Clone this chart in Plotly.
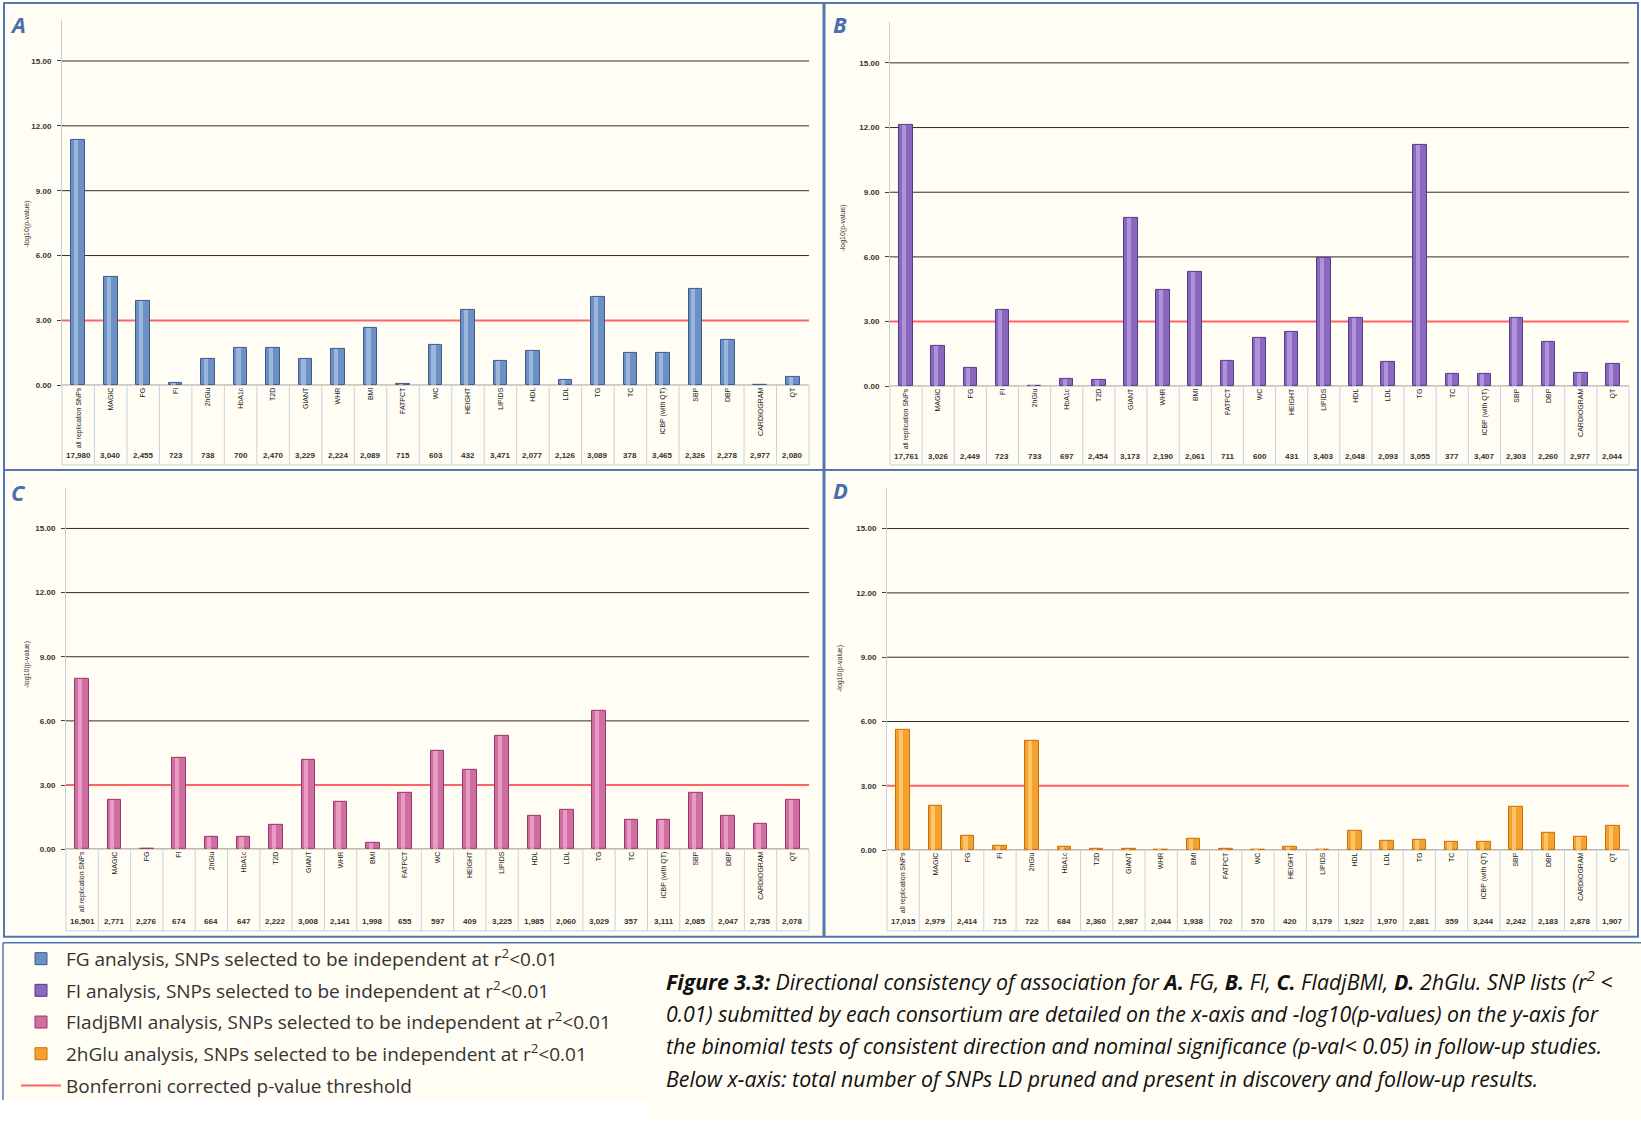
import plotly.graph_objects as go

W, H = 1641, 1122

CATEGORIES = ["all replication SNPs", "MAGIC", "FG", "FI", "2hGlu", "HbA1c", "T2D", "GIANT",
              "WHR", "BMI", "FATPCT", "WC", "HEIGHT", "LIPIDS", "HDL", "LDL", "TG", "TC",
              "ICBP (with QT)", "SBP", "DBP", "CARDIOGRAM", "QT"]

FG_VALUES = [11.35, 5.01, 3.91, 0.12, 1.22, 1.71, 1.75, 1.24, 1.69, 2.67, 0.05, 1.86,
             3.49, 1.12, 1.61, 0.23, 4.09, 1.52, 1.52, 4.48, 2.08, 0.01, 0.40]
FI_VALUES = [12.14, 1.89, 0.87, 3.55, 0.03, 0.36, 0.31, 7.83, 4.45, 5.32, 1.18, 2.25,
             2.50, 5.94, 3.18, 1.13, 11.21, 0.56, 0.56, 3.19, 2.05, 0.62, 1.05]
FIADJBMI_VALUES = [7.99, 2.32, 0.0, 4.29, 0.56, 0.58, 1.13, 4.17, 2.23, 0.31, 2.66, 4.62,
                   3.70, 5.31, 1.57, 1.85, 6.49, 1.39, 1.39, 2.66, 1.54, 1.18, 2.29]
HGLU_VALUES = [5.61, 2.05, 0.69, 0.20, 5.09, 0.14, 0.06, 0.06, 0.02, 0.55, 0.08, 0.03,
               0.14, 0.02, 0.92, 0.45, 0.50, 0.38, 0.38, 2.00, 0.83, 0.62, 1.16]

FG_COUNTS = [17980, 3040, 2455, 723, 738, 700, 2470, 3229, 2224, 2089, 715, 603, 432,
             3471, 2077, 2126, 3089, 378, 3465, 2326, 2278, 2977, 2080]
FI_COUNTS = [17761, 3026, 2449, 723, 733, 697, 2454, 3173, 2190, 2061, 711, 600, 431,
             3403, 2048, 2093, 3055, 377, 3407, 2303, 2260, 2977, 2044]
FIADJBMI_COUNTS = [16501, 2771, 2276, 674, 664, 647, 2222, 3008, 2141, 1998, 655, 597, 409,
                   3225, 1985, 2060, 3029, 357, 3111, 2085, 2047, 2735, 2078]
HGLU_COUNTS = [17015, 2979, 2414, 715, 722, 684, 2360, 2987, 2044, 1938, 702, 570, 420,
               3179, 1922, 1970, 2881, 359, 3244, 2242, 2183, 2878, 1907]

Y_TICKS = [0, 3, 6, 9, 12, 15]
BONFERRONI = 3.0

LEGEND_NAMES = [
    "FG analysis, SNPs selected to be independent at r<sup>2</sup><0.01",
    "FI analysis, SNPs selected to be independent at r<sup>2</sup><0.01",
    "FIadjBMI analysis, SNPs selected to be independent at r<sup>2</sup><0.01",
    "2hGlu analysis, SNPs selected to be independent at r<sup>2</sup><0.01",
]
PANEL_LETTERS = ["A", "B", "C", "D"]

CREAM = "#fffdf4"
BORDER = "#5577b0"
GRID = "#2a2a2a"
RED = "#ff6464"
N = len(CATEGORIES)


def px(x):
    return x / W


def py(y):
    return 1 - y / H


panels = [
    dict(values=FG_VALUES, counts=FG_COUNTS, fill="#6d90c4", edge="#3d5c8c", hi="#a9c3e6",
         xpx=(62, 809), ypx=(387, 20), count_y=458, cell_bottom=467,
         letter=(18, 24), ytitle=(21, 200)),
    dict(values=FI_VALUES, counts=FI_COUNTS, fill="#8a68be", edge="#58388c", hi="#bba2e2",
         xpx=(890, 1629), ypx=(388, 22), count_y=459, cell_bottom=467,
         letter=(840, 24), ytitle=(843, 204)),
    dict(values=FIADJBMI_VALUES, counts=FIADJBMI_COUNTS, fill="#cf6fa1", edge="#98386a", hi="#f2a9cd",
         xpx=(66, 809), ypx=(853, 490), count_y=926, cell_bottom=935,
         letter=(18, 494), ytitle=(21, 668)),
    dict(values=HGLU_VALUES, counts=HGLU_COUNTS, fill="#f3a231", edge="#c86f05", hi="#ffd27a",
         xpx=(887, 1629), ypx=(854, 490), count_y=926, cell_bottom=935,
         letter=(840, 492), ytitle=(840, 672)),
]

fig = go.Figure()
shapes = [
    dict(type="rect", xref="paper", yref="paper", x0=px(4), x1=px(1638), y0=py(941), y1=py(3),
         fillcolor=CREAM, line=dict(width=0), layer="below"),
    dict(type="rect", xref="paper", yref="paper", x0=px(3), x1=px(650), y0=py(1105), y1=py(947),
         fillcolor=CREAM, line=dict(width=0), layer="below"),
    dict(type="rect", xref="paper", yref="paper", x0=px(650), x1=1, y0=0, y1=py(947),
         fillcolor=CREAM, line=dict(width=0), layer="below"),
]
annotations = []

for i, p in enumerate(panels, start=1):
    xa = "x" if i == 1 else f"x{i}"
    ya = "y" if i == 1 else f"y{i}"
    x0p, x1p = p["xpx"]
    ybot, ytop = p["ypx"]
    fig.add_trace(go.Bar(
        x=CATEGORIES, y=p["values"], xaxis=xa, yaxis=ya, width=0.42,
        name=LEGEND_NAMES[i - 1], legendgroup=f"g{i}",
        marker=dict(color=p["fill"], line=dict(color=p["edge"], width=1)),
    ))
    fig.add_trace(go.Bar(
        x=CATEGORIES, y=p["values"], xaxis=xa, yaxis=ya, width=0.13, offset=-0.13,
        showlegend=False, hoverinfo="skip",
        marker=dict(color=p["hi"], opacity=0.75, line=dict(width=0)),
    ))
    fig.layout[f"xaxis{i}"] = dict(
        domain=[px(x0p), px(x1p)], anchor=ya, type="category", categoryorder="array",
        categoryarray=CATEGORIES, range=[-0.5, N - 0.5],
        tickangle=-90, showgrid=False, ticks="", showline=False,
        tickfont=dict(family="Liberation Sans", size=7, color="#222"),
    )
    fig.layout[f"yaxis{i}"] = dict(
        domain=[py(ybot), py(ytop)], anchor=xa, range=[0, 16.9], tickvals=Y_TICKS,
        tickformat=".2f", showgrid=False, zeroline=False,
        showline=True, linecolor="#c6cedb",
        ticks="outside", ticklen=4, tickcolor="#444", ticklabelstandoff=4,
        tickfont=dict(family="Liberation Sans", size=8, color="#333", weight="bold"),
    )
    # horizontal gridlines (the one at the threshold is drawn red)
    for t in Y_TICKS:
        if t == BONFERRONI:
            continue
        shapes.append(dict(type="line", xref=xa, yref=ya, x0=-0.5, x1=N - 0.5, y0=t, y1=t,
                           layer="below", line=dict(color=GRID, width=1)))
    shapes.append(dict(type="line", xref=xa, yref=ya, x0=-0.5, x1=N - 0.5,
                       y0=BONFERRONI, y1=BONFERRONI, layer="below",
                       line=dict(color=RED, width=2)))
    # table cells under the x axis
    cb = p["cell_bottom"]
    for k in range(N + 1):
        xk = x0p + k * (x1p - x0p) / N
        shapes.append(dict(type="line", xref="paper", yref="paper", x0=px(xk), x1=px(xk),
                           y0=py(cb), y1=py(ybot), line=dict(color="#c9d2df", width=1)))
    shapes.append(dict(type="line", xref="paper", yref="paper", x0=px(x0p), x1=px(x1p),
                       y0=py(cb), y1=py(cb), line=dict(color="#c9d2df", width=1)))
    cy = -(p["count_y"] - ybot) / (ybot - ytop)
    for cat, n in zip(CATEGORIES, p["counts"]):
        annotations.append(dict(x=cat, y=cy, xref=xa, yref=f"{ya} domain", yanchor="middle",
                                text=f"<b>{n:,}</b>", showarrow=False,
                                font=dict(family="Liberation Sans", size=8, color="#333")))
    lx, ly = p["letter"]
    annotations.append(dict(x=px(lx), y=py(ly), xref="paper", yref="paper",
                            text=f"<b><i>{PANEL_LETTERS[i - 1]}</i></b>", showarrow=False,
                            xanchor="center", yanchor="middle",
                            font=dict(family="Open Sans", size=22, color="#4a6db0")))
    tx, ty = p["ytitle"]
    annotations.append(dict(x=px(tx), y=py(ty), xref="paper", yref="paper",
                            text="-log10(p-value)", textangle=-90, showarrow=False,
                            font=dict(family="Liberation Sans", size=7, color="#333")))

# legend entry for the threshold line
fig.add_trace(go.Scatter(x=[None], y=[None], mode="lines", xaxis="x", yaxis="y",
                         name="Bonferroni corrected p-value threshold", legendgroup="bonf",
                         line=dict(color=RED, width=2)))

frame = dict(color=BORDER, width=2)
shapes += [
    dict(type="rect", xref="paper", yref="paper", x0=px(4), x1=px(1638), y0=py(941), y1=py(3),
         line=frame),
    dict(type="line", xref="paper", yref="paper", x0=px(824), x1=px(824), y0=py(941), y1=py(3),
         line=dict(color=BORDER, width=3)),
    dict(type="line", xref="paper", yref="paper", x0=px(4), x1=px(1638), y0=py(472), y1=py(472),
         line=frame),
    dict(type="line", xref="paper", yref="paper", x0=px(3), x1=px(1641), y0=py(947), y1=py(947),
         line=dict(color=BORDER, width=1.5)),
    dict(type="line", xref="paper", yref="paper", x0=px(3), x1=px(3), y0=py(1105), y1=py(947),
         line=dict(color=BORDER, width=1.5)),
]

CAPTION_LINES = [
    "<b>Figure 3.3:</b> Directional consistency of association for <b>A.</b> FG, <b>B.</b> FI, "
    "<b>C.</b> FIadjBMI, <b>D.</b> 2hGlu. SNP lists (r<sup>2</sup> <",
    "0.01) submitted by each consortium are detailed on the x-axis and -log10(p-values) on the y-axis for",
    "the binomial tests of consistent direction and nominal significance (p-val< 0.05) in follow-up studies.",
    "Below x-axis: total number of SNPs LD pruned and present in discovery and follow-up results.",
]
for line, yy in zip(CAPTION_LINES, [985, 1018, 1050, 1083]):
    annotations.append(dict(x=px(664), y=py(yy), xref="paper", yref="paper",
                            text=f"<i>{line}</i>", showarrow=False, xanchor="left",
                            yanchor="middle",
                            font=dict(family="Open Sans", size=21.3, color="#111")))

fig.update_layout(
    width=W, height=H, margin=dict(l=0, r=0, t=0, b=0),
    paper_bgcolor="white", plot_bgcolor=CREAM, barmode="overlay", bargap=0,
    shapes=shapes, annotations=annotations,
    showlegend=True,
    legend=dict(x=px(16), y=py(944), xanchor="left", yanchor="top", traceorder="grouped",
                tracegroupgap=4, bgcolor="rgba(0,0,0,0)", itemwidth=40,
                font=dict(family="Open Sans", size=19, color="#333")),
)

fig.write_html("out.html", config={"displayModeBar": False},
               post_script="document.body.style.margin='0px';")
